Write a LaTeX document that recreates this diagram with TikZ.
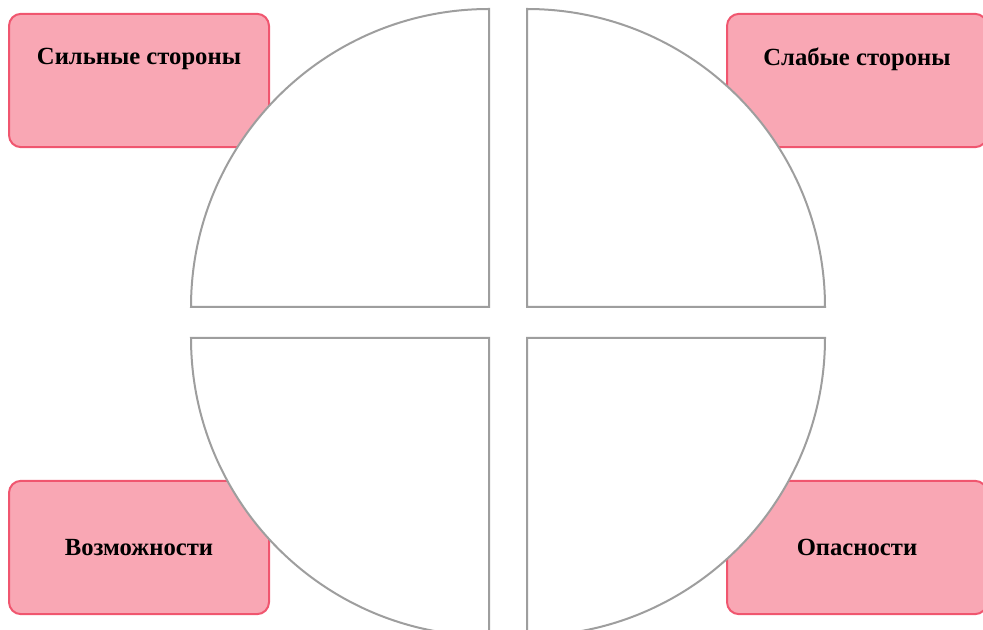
\documentclass[tikz,border=0pt]{standalone}
\usepackage{fontspec}
\setmainfont{Liberation Serif}
\usepackage{tikz}
\usetikzlibrary{positioning}

\definecolor{rosa}{HTML}{F9A7B4}
\definecolor{borde}{HTML}{F0566F}
\definecolor{gris}{HTML}{9E9E9E}

\begin{document}
\begin{tikzpicture}[
			x=0.75pt, y=-0.75pt,
			% cajas de las esquinas
			caja/.style={rectangle, draw=borde, fill=rosa, line width=1.5pt, rounded corners=9pt, minimum width=195pt, minimum height=100pt, inner sep=0pt, font=\fontsize{18.5}{22}\selectfont\bfseries},
			titulo/.style={font=\fontsize{18.5}{22}\selectfont\bfseries},
			cuarto/.style={draw=gris, fill=white, line width=1.5pt}
			]
			
			\useasboundingbox (0,0) rectangle (983,630);
			
			\node[caja] (fuertes) at (139,80.5) {};
			\node[caja] (debiles) at (857,80.5) {};
			\node[caja] (oportunidades) at (139,547.5) {Возможности};
			\node[caja] (amenazas) at (857,547.5) {Опасности};
			
			\node[titulo, below=23pt of fuertes.north] (tfuertes) {Сильные стороны};
			\node[titulo, below=23pt of debiles.north] (tdebiles) {Слабые стороны};
			
			% los cuatro cuartos del circulo
			\draw[cuarto] (489,307) -- (191,307) arc[start angle=180, end angle=270, radius=298] -- cycle;
			\draw[cuarto] (527,307) -- (527,9) arc[start angle=270, end angle=360, radius=298] -- cycle;
			\draw[cuarto] (489,338) -- (191,338) arc[start angle=180, end angle=90, radius=298] -- cycle;
			\draw[cuarto] (527,338) -- (825,338) arc[start angle=0, end angle=90, radius=298] -- cycle;
			
		\end{tikzpicture}
\end{document}
